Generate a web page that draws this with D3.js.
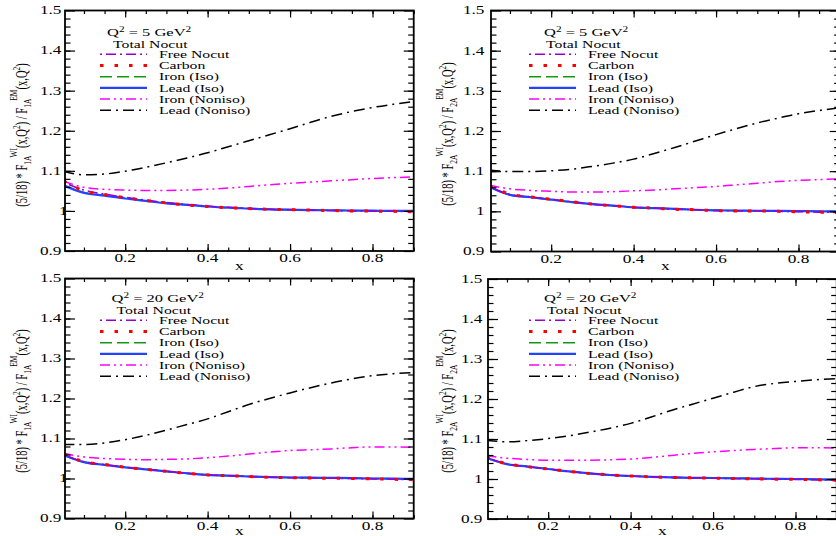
<!DOCTYPE html>
<html>
<head>
<meta charset="utf-8">
<script src="https://cdn.jsdelivr.net/npm/d3@7"></script>
<style>
  body { margin: 0; background: #fff; }
  svg { display: block; }
  text { font-family: "Liberation Serif", "Times New Roman", serif; fill: #000; }
</style>
</head>
<body>
<svg id="fig" width="836" height="536"></svg>
<script>
// ---- data: Bjorken x grid and ratio curves for each structure function / Q^2 ----
const xValues = [0.05, 0.1, 0.15, 0.2, 0.25, 0.3, 0.35, 0.4, 0.45, 0.5, 0.55, 0.6, 0.65, 0.7, 0.75, 0.8, 0.85, 0.9];

// F1, Q^2 = 5 GeV^2
const f1q5Free     = [1.072, 1.052, 1.042, 1.034, 1.027, 1.021, 1.016, 1.012, 1.009, 1.006, 1.004, 1.003, 1.002, 1.001, 1.000, 0.9995, 0.999, 0.998];
const f1q5Carbon   = [1.075, 1.050, 1.041, 1.033, 1.026, 1.020, 1.015, 1.011, 1.008, 1.006, 1.004, 1.003, 1.002, 1.001, 1.000, 0.9995, 0.999, 0.998];
const f1q5IronIso  = [1.065, 1.046, 1.039, 1.032, 1.025, 1.020, 1.015, 1.011, 1.008, 1.006, 1.004, 1.003, 1.002, 1.0015, 1.001, 1.000, 1.000, 0.9995];
const f1q5LeadIso  = [1.064, 1.045, 1.038, 1.031, 1.025, 1.019, 1.015, 1.011, 1.008, 1.006, 1.004, 1.003, 1.002, 1.0015, 1.001, 1.0005, 1.000, 1.000];
const f1q5IronNon  = [1.074, 1.059, 1.054, 1.052, 1.051, 1.051, 1.052, 1.054, 1.057, 1.061, 1.065, 1.069, 1.072, 1.075, 1.078, 1.081, 1.083, 1.085];
const f1q5LeadNon  = [1.099, 1.090, 1.092, 1.099, 1.109, 1.120, 1.132, 1.145, 1.160, 1.175, 1.190, 1.205, 1.221, 1.236, 1.248, 1.258, 1.266, 1.273];

// F2, Q^2 = 5 GeV^2
const f2q5Free     = [1.062, 1.042, 1.036, 1.030, 1.024, 1.018, 1.014, 1.010, 1.008, 1.005, 1.004, 1.002, 1.001, 1.001, 1.000, 0.999, 0.998, 0.997];
const f2q5Carbon   = [1.063, 1.043, 1.036, 1.030, 1.024, 1.018, 1.014, 1.010, 1.008, 1.005, 1.004, 1.002, 1.001, 1.001, 1.000, 0.999, 0.998, 0.997];
const f2q5IronIso  = [1.061, 1.041, 1.035, 1.029, 1.023, 1.018, 1.014, 1.010, 1.008, 1.006, 1.004, 1.0025, 1.002, 1.0015, 1.001, 1.0005, 1.000, 0.9995];
const f2q5LeadIso  = [1.061, 1.041, 1.035, 1.029, 1.023, 1.018, 1.014, 1.010, 1.008, 1.006, 1.004, 1.0025, 1.002, 1.0015, 1.001, 1.0005, 1.000, 1.000];
const f2q5IronNon  = [1.065, 1.056, 1.052, 1.050, 1.048, 1.048, 1.049, 1.051, 1.053, 1.056, 1.059, 1.062, 1.066, 1.070, 1.074, 1.077, 1.079, 1.081];
const f2q5LeadNon  = [1.103, 1.099, 1.099, 1.101, 1.105, 1.112, 1.120, 1.130, 1.144, 1.159, 1.175, 1.191, 1.206, 1.220, 1.232, 1.243, 1.251, 1.258];

// F1, Q^2 = 20 GeV^2
const f1q20Free    = [1.060, 1.042, 1.035, 1.028, 1.023, 1.018, 1.013, 1.009, 1.007, 1.005, 1.003, 1.002, 1.001, 1.0005, 1.000, 0.999, 0.998, 0.997];
const f1q20Carbon  = [1.061, 1.042, 1.035, 1.028, 1.023, 1.018, 1.013, 1.009, 1.007, 1.005, 1.003, 1.002, 1.001, 1.0005, 1.000, 0.999, 0.998, 0.997];
const f1q20IronIso = [1.059, 1.041, 1.034, 1.028, 1.023, 1.018, 1.013, 1.009, 1.007, 1.005, 1.0035, 1.0025, 1.002, 1.0015, 1.001, 1.000, 0.9995, 0.999];
const f1q20LeadIso = [1.059, 1.041, 1.034, 1.028, 1.023, 1.018, 1.013, 1.009, 1.007, 1.005, 1.0035, 1.0025, 1.002, 1.0015, 1.001, 1.000, 0.9995, 0.999];
const f1q20IronNon = [1.063, 1.054, 1.050, 1.048, 1.047, 1.048, 1.049, 1.052, 1.056, 1.061, 1.066, 1.070, 1.072, 1.074, 1.077, 1.079, 1.079, 1.078];
const f1q20LeadNon = [1.085, 1.085, 1.089, 1.097, 1.108, 1.121, 1.135, 1.149, 1.167, 1.185, 1.200, 1.214, 1.227, 1.239, 1.249, 1.257, 1.262, 1.265];

// F2, Q^2 = 20 GeV^2
const f2q20Free    = [1.054, 1.038, 1.031, 1.025, 1.019, 1.014, 1.010, 1.0075, 1.0055, 1.004, 1.003, 1.002, 1.001, 1.0005, 0.9995, 0.999, 0.998, 0.997];
const f2q20Carbon  = [1.054, 1.038, 1.031, 1.025, 1.019, 1.014, 1.010, 1.0075, 1.0055, 1.004, 1.003, 1.002, 1.001, 1.0005, 0.9995, 0.999, 0.998, 0.997];
const f2q20IronIso = [1.053, 1.037, 1.031, 1.025, 1.019, 1.014, 1.010, 1.0075, 1.0055, 1.004, 1.003, 1.0025, 1.0018, 1.001, 1.0005, 1.000, 0.999, 0.9985];
const f2q20LeadIso = [1.053, 1.037, 1.031, 1.025, 1.019, 1.014, 1.010, 1.0075, 1.0055, 1.004, 1.003, 1.0025, 1.0018, 1.001, 1.0005, 1.000, 0.999, 0.9985];
const f2q20IronNon = [1.058, 1.052, 1.049, 1.047, 1.047, 1.047, 1.048, 1.050, 1.054, 1.059, 1.064, 1.068, 1.071, 1.074, 1.076, 1.078, 1.078, 1.077];
const f2q20LeadNon = [1.097, 1.093, 1.096, 1.101, 1.108, 1.117, 1.127, 1.139, 1.155, 1.172, 1.187, 1.202, 1.217, 1.231, 1.239, 1.244, 1.248, 1.251];

const seriesNames = ["Free Nocut", "Carbon", "Iron (Iso)", "Lead (Iso)", "Iron (Noniso)", "Lead (Noniso)"];
const q2Values = ["5", "5", "20", "20"];
const structureIndex = ["1", "2", "1", "2"];
const xTickValues = [0.2, 0.4, 0.6, 0.8];
const xTickLabels = ["0.2", "0.4", "0.6", "0.8"];
const yTickValues = [0.9, 1.0, 1.1, 1.2, 1.3, 1.4, 1.5];
const yTickLabels = ["0.9", "1", "1.1", "1.2", "1.3", "1.4", "1.5"];

// ---- styling ----
const SX = 1.5;                 // horizontal stretch applied to all lettering
const seriesStyle = [
  { color: "#9400d3", width: 1.5, dash: "2,4,10,4" },       // Free Nocut
  { color: "#ff0000", width: 3.0, dash: "3.5,11" },         // Carbon
  { color: "#119a11", width: 1.6, dash: "12,5" },           // Iron (Iso)
  { color: "#2244ff", width: 2.2, dash: null },             // Lead (Iso)
  { color: "#ff00ff", width: 1.5, dash: "10,4,2,4,2,4" },   // Iron (Noniso)
  { color: "#000000", width: 1.5, dash: "11,5,2,5" }        // Lead (Noniso)
];
const drawOrder = [5, 4, 2, 3, 0, 1];

const panels = [
  { series: [f1q5Free, f1q5Carbon, f1q5IronIso, f1q5LeadIso, f1q5IronNon, f1q5LeadNon],
    left: 65, top: 10.5, bottom: 251, labelGap: 3.5, oneShift: 6, xlabY: 269.5,
    ylab: { x: 27, y: 135 }, leg: { title: 107, total: 113, line: 100, text: 159, y: 36 } },
  { series: [f2q5Free, f2q5Carbon, f2q5IronIso, f2q5LeadIso, f2q5IronNon, f2q5LeadNon],
    left: 491, top: 10.5, bottom: 251.5, labelGap: 6.5, oneShift: 0, xlabY: 269.5,
    ylab: { x: 453, y: 134 }, leg: { title: 544, total: 546, line: 529, text: 588, y: 36 } },
  { series: [f1q20Free, f1q20Carbon, f1q20IronIso, f1q20LeadIso, f1q20IronNon, f1q20LeadNon],
    left: 65, top: 278.5, bottom: 518.5, labelGap: 3.5, oneShift: 6, xlabY: 534.5,
    ylab: { x: 27, y: 401 }, leg: { title: 111.5, total: 116.5, line: 100, text: 159, y: 302 } },
  { series: [f2q20Free, f2q20Carbon, f2q20IronIso, f2q20LeadIso, f2q20IronNon, f2q20LeadNon],
    left: 488, top: 279, bottom: 519, labelGap: 5.5, oneShift: 0, xlabY: 534.5,
    ylab: { x: 453, y: 401 }, leg: { title: 544, total: 547, line: 529, text: 588, y: 302 } }
];

const svg = d3.select("#fig");
const X_MIN = 0.054, X_MAX = 0.9, PX_PER_X = 412.2;

// stretched text helper
function stext(g, x, y, size, anchor) {
  return g.append("text")
    .attr("transform", `translate(${x},${y}) scale(${SX},1)`)
    .attr("text-anchor", anchor || "start")
    .attr("font-size", size);
}

panels.forEach((p, pi) => {
  const right = p.left + (X_MAX - X_MIN) * PX_PER_X;
  const x = d3.scaleLinear().domain([X_MIN, X_MAX]).range([p.left, right]);
  const y = d3.scaleLinear().domain([0.9, 1.5]).range([p.bottom, p.top]);
  const g = svg.append("g");
  const w = right - p.left, h = p.bottom - p.top;

  const clipId = "clip" + pi;
  svg.append("clipPath").attr("id", clipId)
    .append("rect").attr("x", p.left).attr("y", p.top).attr("width", w).attr("height", h);

  // curves
  const line = d3.line().x((d, i) => x(xValues[i])).y(d => y(d)).curve(d3.curveMonotoneX);
  const curves = g.append("g").attr("clip-path", `url(#${clipId})`);
  drawOrder.forEach(si => {
    const st = seriesStyle[si];
    curves.append("path")
      .datum(p.series[si])
      .attr("d", line)
      .attr("fill", "none")
      .attr("stroke", st.color)
      .attr("stroke-width", st.width)
      .attr("stroke-dasharray", st.dash)
      .attr("stroke-linecap", "butt");
  });

  // axes: inward major + minor ticks on all four sides
  const xMinor = d3.range(0.1, 0.9001, 0.05).filter(v => v > X_MIN);
  const yMinor = d3.range(0.92, 1.5, 0.02);
  const styleAxis = sel => {
    sel.select(".domain").remove();
    sel.selectAll(".tick line").attr("stroke", "#000").attr("stroke-width", 1.2);
  };
  g.append("g").attr("transform", `translate(0,${p.bottom})`)
    .call(d3.axisBottom(x).tickValues(xMinor).tickSize(-3.5).tickFormat(""))
    .call(styleAxis);
  g.append("g").attr("transform", `translate(0,${p.top})`)
    .call(d3.axisTop(x).tickValues(xMinor).tickSize(-3.5).tickFormat(""))
    .call(styleAxis);
  g.append("g").attr("transform", `translate(0,${p.bottom})`)
    .call(d3.axisBottom(x).tickValues(xTickValues).tickSize(-7).tickFormat(""))
    .call(styleAxis);
  g.append("g").attr("transform", `translate(0,${p.top})`)
    .call(d3.axisTop(x).tickValues(xTickValues).tickSize(-7).tickFormat(""))
    .call(styleAxis);
  g.append("g").attr("transform", `translate(${p.left},0)`)
    .call(d3.axisLeft(y).tickValues(yMinor).tickSize(-5.5).tickFormat(""))
    .call(styleAxis);
  g.append("g").attr("transform", `translate(${right},0)`)
    .call(d3.axisRight(y).tickValues(yMinor).tickSize(-5.5).tickFormat(""))
    .call(styleAxis);
  g.append("g").attr("transform", `translate(${p.left},0)`)
    .call(d3.axisLeft(y).tickValues(yTickValues).tickSize(-10).tickFormat(""))
    .call(styleAxis);
  g.append("g").attr("transform", `translate(${right},0)`)
    .call(d3.axisRight(y).tickValues(yTickValues).tickSize(-10).tickFormat(""))
    .call(styleAxis);

  // frame
  g.append("rect").attr("x", p.left).attr("y", p.top).attr("width", w).attr("height", h)
    .attr("fill", "none").attr("stroke", "#000").attr("stroke-width", 1.8);

  // tick labels
  xTickValues.forEach((v, i) => {
    stext(g, x(v), p.bottom + 11.2, 11.5, "middle").text(xTickLabels[i]);
  });
  yTickValues.forEach((v, i) => {
    const shift = yTickLabels[i] === "1" ? p.oneShift : 0;
    stext(g, p.left - p.labelGap + shift, y(v) + 3.9, 11.5, "end").text(yTickLabels[i]);
  });

  // x axis title
  stext(g, (p.left + right) / 2, p.xlabY, 11.5, "middle").text("x");

  // y axis title
  const yl = g.append("text")
    .attr("transform", `translate(${p.ylab.x},${p.ylab.y}) scale(${SX},1) rotate(-90)`)
    .attr("text-anchor", "middle").attr("font-size", 10.5);
  const sf = structureIndex[pi];
  yl.append("tspan").text("(5/18) * F");
  yl.append("tspan").attr("font-size", 7.5).attr("dy", 2.5).text(sf + "A");
  yl.append("tspan").attr("font-size", 7.5).attr("dy", -9).attr("dx", -2).text("WI");
  yl.append("tspan").attr("dy", 6.5).text("(x,Q");
  yl.append("tspan").attr("font-size", 7.5).attr("dy", -5).text("2");
  yl.append("tspan").attr("dy", 5).text(") / F");
  yl.append("tspan").attr("font-size", 7.5).attr("dy", 2.5).text(sf + "A");
  yl.append("tspan").attr("font-size", 7.5).attr("dy", -9).attr("dx", -2).text("EM");
  yl.append("tspan").attr("dy", 6.5).text("(x,Q");
  yl.append("tspan").attr("font-size", 7.5).attr("dy", -5).text("2");
  yl.append("tspan").attr("dy", 5).text(")");

  // legend block
  const L = p.leg;
  const t1 = stext(g, L.title, L.y, 11, "start");
  t1.append("tspan").text("Q");
  t1.append("tspan").attr("font-size", 7.5).attr("dy", -4.5).text("2");
  t1.append("tspan").attr("dy", 4.5).text(` = ${q2Values[pi]} GeV`);
  t1.append("tspan").attr("font-size", 7.5).attr("dy", -4.5).text("2");
  stext(g, L.total, L.y + 12, 10.5, "start").text("Total Nocut");
  seriesNames.forEach((name, si) => {
    const cy = L.y + 18.3 + si * 11.2;
    const st = seriesStyle[si];
    g.append("line")
      .attr("x1", L.line).attr("x2", L.line + 47).attr("y1", cy).attr("y2", cy)
      .attr("stroke", st.color).attr("stroke-width", st.width)
      .attr("stroke-dasharray", st.dash);
    stext(g, L.text, cy + 3.6, 10.5, "start").text(name);
  });
});
</script>
</body>
</html>
